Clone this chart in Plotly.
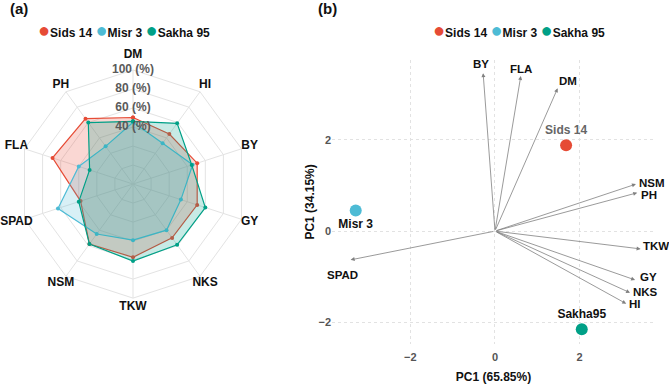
import plotly.graph_objects as go

# ---------------- data ----------------
traits = ["DM", "HI", "BY", "GY", "NKS", "TKW", "NSM", "SPAD", "FLA", "PH"]
genotypes = ["Sids 14", "Misr 3", "Sakha 95"]
sids14 = [50, 45, 51, 51, 50, 57, 58, 38, 69, 65]
misr3 = [45, 33, 46, 33, 40, 39, 45, 63, 40, 29]
sakha95 = [46, 59, 45, 60, 59, 61, 58, 40, 28, 60]
radial_ticks = [0, 20, 40, 60, 80, 100]
radial_labels = ["0 (%)", "20 (%)", "40 (%)", "60 (%)", "80 (%)", "100 (%)"]

score_labels = ["Sids 14", "Misr 3", "Sakha95"]
pc1_scores = [1.68, -3.29, 2.05]
pc2_scores = [1.88, 0.45, -2.15]

load_vars = ["BY", "FLA", "DM", "NSM", "PH", "TKW", "GY", "NKS", "HI", "SPAD"]
load_pc1 = [-0.28, 0.61, 1.48, 3.33, 3.36, 3.44, 3.31, 3.19, 3.10, -3.41]
load_pc2 = [3.46, 3.40, 3.13, 1.03, 0.84, -0.39, -1.07, -1.35, -1.59, -0.63]

x_ticks = [-2, 0, 2]
y_ticks = [-2, 0, 2]

# label placement relative to arrow tips (anchor, x shift px, y shift px)
load_label_style = {
    "BY": ("center", -2, 9), "FLA": ("center", 0, 7), "DM": ("center", 10, 7),
    "NSM": ("left", 1, 1), "PH": ("left", 2, -2), "TKW": ("left", 0, 3),
    "GY": ("left", 3, 3), "NKS": ("left", 1, 1), "HI": ("left", 1, 0),
    "SPAD": ("center", -8, -15),
}
trait_label_pos = ["top center"] + ["middle center"] * (len(traits) - 1)

colors = ["#E64B35", "#4DBBD5", "#00A087"]
fills = ["rgba(230,75,53,0.22)", "rgba(77,187,213,0.22)", "rgba(0,160,135,0.22)"]

FONT = "Liberation Sans, Arial, sans-serif"
W, H = 669, 384

# radar geometry: radial range extends past 100 so trait names fit inside it
R_MIN, R_MAX, R_LABEL = -20, 112, 109
CX, CY, PX_PER_UNIT = 133, 185.5, 0.958
half = (R_MAX - R_MIN) * PX_PER_UNIT

fig = go.Figure()

# ---------------- radar (a) ----------------
spoke_r, spoke_t = [], []
for t in traits:
    spoke_r += [R_MIN, radial_ticks[-1], None]
    spoke_t += [t, t, None]
fig.add_trace(go.Scatterpolar(
    r=spoke_r, theta=spoke_t, mode="lines", line=dict(color="#e3e3e3", width=1),
    showlegend=False, hoverinfo="skip", subplot="polar", connectgaps=False))

for name, vals, c, fc in zip(genotypes, [sids14, misr3, sakha95], colors, fills):
    fig.add_trace(go.Scatterpolar(
        r=vals + [vals[0]], theta=traits + [traits[0]],
        mode="lines+markers", fill="toself", fillcolor=fc,
        line=dict(color=c, width=1.2), marker=dict(color=c, size=4),
        name=name, showlegend=False, subplot="polar"))

# radial value labels on an overlaid, transparent polar so they sit on top
fig.add_trace(go.Scatterpolar(
    r=radial_ticks, theta=[traits[0]] * len(radial_ticks), mode="text",
    text=radial_labels, textposition="middle center", cliponaxis=False,
    textfont=dict(family=FONT, size=12, color="#5a5a5a", weight="bold"),
    showlegend=False, hoverinfo="skip", subplot="polar2"))

fig.add_trace(go.Scatterpolar(
    r=[R_LABEL] * len(traits), theta=traits, mode="text", text=traits,
    textposition=trait_label_pos, cliponaxis=False,
    textfont=dict(family=FONT, size=12, color="#111111", weight="bold"),
    showlegend=False, hoverinfo="skip", subplot="polar"))

# ---------------- biplot (b) ----------------
for i in range(len(load_vars)):
    fig.add_annotation(x=load_pc1[i], y=load_pc2[i], ax=0, ay=0,
                       xref="x", yref="y", axref="x", ayref="y",
                       text="", showarrow=True, arrowhead=2, arrowsize=1,
                       arrowwidth=0.8, arrowcolor="#808080", standoff=0)
    anc, xs, ys = load_label_style[load_vars[i]]
    fig.add_annotation(x=load_pc1[i], y=load_pc2[i], xref="x", yref="y",
                       text=f"<b>{load_vars[i]}</b>", showarrow=False,
                       xanchor=anc, yanchor="middle", xshift=xs, yshift=ys,
                       font=dict(family=FONT, size=11.5, color="#111111"))

score_text_pos = ["top center", "bottom center", "top center"]
score_text_col = ["#666666", "#111111", "#111111"]
for i in range(3):
    fig.add_trace(go.Scatter(
        x=[pc1_scores[i]], y=[pc2_scores[i]], mode="markers+text",
        text=[score_labels[i]], textposition=score_text_pos[i],
        textfont=dict(family=FONT, size=12, color=score_text_col[i], weight="bold"),
        marker=dict(color=colors[i], size=12),
        showlegend=False, cliponaxis=False))

# ---------------- legends (drawn as text) ----------------
def legend_text():
    parts = []
    for name, c in zip(genotypes, colors):
        parts.append(f'<span style="color:{c};font-size:20px">●</span><b>{name}</b>')
    return " ".join(parts)

fig.add_annotation(x=124 / W, y=1 - 30 / H, xref="paper", yref="paper",
                   text=legend_text(), showarrow=False, xanchor="center", yanchor="middle",
                   font=dict(family=FONT, size=12, color="#111111"))
fig.add_annotation(x=519 / W, y=1 - 30 / H, xref="paper", yref="paper",
                   text=legend_text(), showarrow=False, xanchor="center", yanchor="middle",
                   font=dict(family=FONT, size=12, color="#111111"))

fig.add_annotation(x=8 / W, y=1 - 9 / H, xref="paper", yref="paper", text="<b>(a)</b>",
                   showarrow=False, xanchor="left", yanchor="middle",
                   font=dict(family=FONT, size=15, color="#111111"))
fig.add_annotation(x=316 / W, y=1 - 9 / H, xref="paper", yref="paper", text="<b>(b)</b>",
                   showarrow=False, xanchor="left", yanchor="middle",
                   font=dict(family=FONT, size=15, color="#111111"))

grid = "#e3e3e3"
polar_domain = dict(x=[(CX - half) / W, (CX + half) / W],
                    y=[(H - CY - half) / H, (H - CY + half) / H])
fig.update_layout(
    width=W, height=H, margin=dict(l=0, r=0, t=0, b=0),
    paper_bgcolor="white", plot_bgcolor="white",
    font=dict(family=FONT, color="#111111"),
    showlegend=False,
    polar=dict(
        domain=polar_domain,
        bgcolor="rgba(0,0,0,0)", gridshape="linear",
        radialaxis=dict(range=[R_MIN, R_MAX], tickvals=radial_ticks, showticklabels=False,
                        ticks="", showline=False, gridcolor=grid, gridwidth=1),
        angularaxis=dict(type="category", categoryarray=traits, rotation=90,
                         direction="clockwise", showgrid=False, showline=False,
                         showticklabels=False, ticks=""),
    ),
    polar2=dict(
        domain=polar_domain,
        bgcolor="rgba(0,0,0,0)", gridshape="linear",
        radialaxis=dict(range=[R_MIN, R_MAX], showgrid=False, showticklabels=False,
                        ticks="", showline=False),
        angularaxis=dict(type="category", categoryarray=traits, rotation=90,
                         direction="clockwise", showgrid=False, showline=False,
                         showticklabels=False, ticks=""),
    ),
    xaxis=dict(domain=[332 / W, 655 / W], range=[-3.85, 3.78], tickvals=x_ticks,
               showgrid=True, gridcolor="#e2e2e2", griddash="dot", zeroline=False,
               showline=False, ticks="outside", ticklen=3, tickcolor="rgba(0,0,0,0)",
               tickfont=dict(family=FONT, size=11, color="#555555", weight="bold"),
               title=dict(text="PC1 (65.85%)", standoff=12,
                          font=dict(family=FONT, size=12, color="#111111", weight="bold"))),
    yaxis=dict(domain=[(H - 347) / H, (H - 60) / H], range=[-2.48, 3.76], tickvals=y_ticks,
               showgrid=True, gridcolor="#e2e2e2", griddash="dot", zeroline=False,
               showline=False, ticks="",
               tickfont=dict(family=FONT, size=11, color="#555555", weight="bold"),
               title=dict(text="PC1 (34.15%)", standoff=1,
                          font=dict(family=FONT, size=12, color="#111111", weight="bold"))),
)

fig.write_html("out.html")
